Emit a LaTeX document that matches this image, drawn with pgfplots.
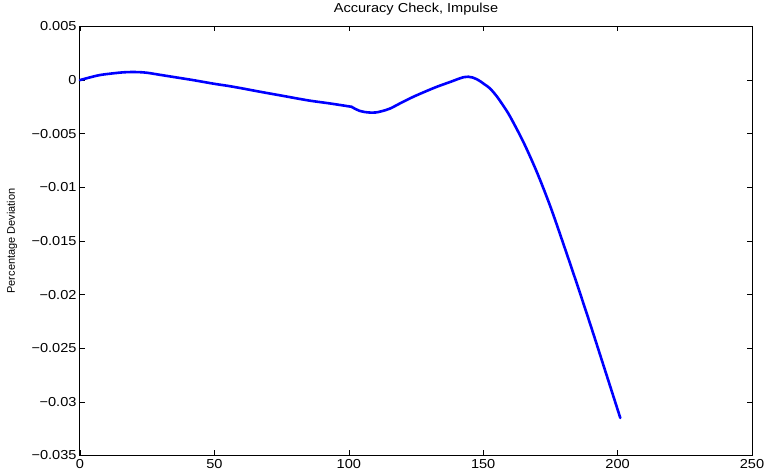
\documentclass[border=0pt]{standalone}
\usepackage{fontspec}
\setmainfont{Liberation Sans}
\newfontfamily\stretchfont{Liberation Sans}[FakeStretch=1.12]
\usepackage{pgfplots}
\pgfplotsset{compat=1.18}
\begin{document}
\begin{tikzpicture}
\begin{axis}[
  scale only axis,
  width=672pt, height=429pt,
  xmin=0, xmax=250, ymin=-0.035, ymax=0.005,
  scaled y ticks=false, scaled x ticks=false,
  xtick={0,50,100,150,200,250},
  xticklabels={0,50,100,150,200,250},
  ytick={-0.035,-0.03,-0.025,-0.02,-0.015,-0.01,-0.005,0,0.005},
  yticklabels={−0.035,−0.03,−0.025,−0.02,−0.015,−0.01,−0.005,0,0.005},
  tick label style={font=\stretchfont\fontsize{13}{15}\selectfont},
  major tick length=5pt,
  tick align=inside,
  axis line style={line width=1pt},
  every tick/.style={black, line width=0.6pt},
  title={Accuracy Check, Impulse},
  title style={font=\stretchfont\fontsize{13}{15}\selectfont, at={(axis description cs:0.5,1)}, anchor=base, yshift=7.7pt},
  ylabel={Percentage Deviation},
  ylabel style={font=\fontsize{11}{13}\selectfont, at={(axis description cs:-0.1012,0.5)}, anchor=center},
  clip=false,
]
\addplot[blue, line width=2.6pt, line cap=round, smooth, tension=0.5] coordinates {
(0,0) (3.7,0.00025) (7.4,0.00047) (12.4,0.00063) (16,0.00072) (19,0.00075)
(22,0.00074) (25,0.00068) (30,0.00048) (36,0.00024) (42,0.0) (50,-0.00035)
(55,-0.00054) (60,-0.00076) (67,-0.00109) (75,-0.00145) (85,-0.0019)
(93,-0.00218) (101,-0.00249)
};
\addplot[blue, line width=2.6pt, line cap=round, smooth, tension=0.5] coordinates {
(101,-0.00249) (102.5,-0.0027) (104,-0.00287) (106,-0.00298)
(108,-0.00303) (110,-0.00302) (112,-0.00292) (115.3,-0.00266) (120,-0.00205)
(124,-0.00156) (128,-0.00112) (132.7,-0.00063) (138,-0.00015) (141.3,0.00016)
(143,0.00028) (144.5,0.00031) (146,0.00024) (147.5,0.00009) (149,-0.00013)
(150.5,-0.0004) (152.5,-0.00077) (155,-0.0015) (157.5,-0.0024) (160,-0.0034)
(165,-0.0058) (170,-0.0086) (175,-0.0118) (180,-0.0154) (185,-0.0191)
(190,-0.0229) (195,-0.0268) (201,-0.0315)
};
\end{axis}
\useasboundingbox (-80pt,-18pt) rectangle (704pt,455pt);
\end{tikzpicture}
\end{document}
